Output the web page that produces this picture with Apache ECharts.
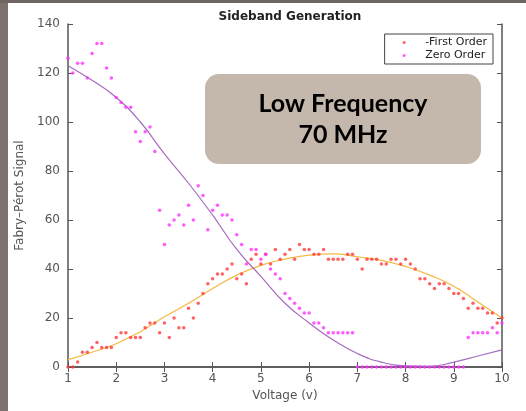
<!DOCTYPE html>
<html>
<head>
<meta charset="utf-8">
<script src="https://cdn.jsdelivr.net/npm/echarts@6/dist/echarts.min.js"></script>
<style>
  html, body { margin: 0; padding: 0; background: #fff; }
  #chart { width: 526px; height: 411px; }
</style>
</head>
<body>
<div id="chart"></div>
<script>
// measured points, voltage step 0.1 V
var voltage = [1.0,1.1,1.2,1.3,1.4,1.5,1.6,1.7,1.8,1.9,2.0,2.1,2.2,2.3,2.4,2.5,2.6,2.7,2.8,2.9,
  3.0,3.1,3.2,3.3,3.4,3.5,3.6,3.7,3.8,3.9,4.0,4.1,4.2,4.3,4.4,4.5,4.6,4.7,4.8,4.9,
  5.0,5.1,5.2,5.3,5.4,5.5,5.6,5.7,5.8,5.9,6.0,6.1,6.2,6.3,6.4,6.5,6.6,6.7,6.8,6.9,
  7.0,7.1,7.2,7.3,7.4,7.5,7.6,7.7,7.8,7.9,8.0,8.1,8.2,8.3,8.4,8.5,8.6,8.7,8.8,8.9,
  9.0,9.1,9.2,9.3,9.4,9.5,9.6,9.7,9.8,9.9,10.0];
var firstOrder = [0,0,2,6,6,8,10,8,8,8,12,14,14,12,12,12,16,18,18,14,
  18,12,20,16,16,24,20,26,30,34,36,38,38,40,42,36,38,34,44,46,
  42,46,42,48,44,46,48,44,50,48,48,46,46,48,44,44,44,44,46,46,
  44,40,44,44,44,42,42,44,44,42,44,42,40,36,36,34,32,34,34,32,
  30,30,28,24,26,24,24,22,22,18,20];
var zeroOrder = [126,120,124,124,118,128,132,132,122,118,110,108,106,106,96,92,96,98,88,64,
  50,58,60,62,58,66,60,74,70,56,64,66,62,62,60,54,50,42,48,48,
  44,46,40,38,36,30,28,26,24,22,22,18,18,16,14,14,14,14,14,14,
  0,0,0,0,0,0,0,0,0,0,0,0,0,0,0,0,0,0,0,0,
  0,0,0,12,14,14,14,14,16,14,18];
// smooth fit curves, read every 0.5 V
var fitVoltage = [1,1.5,2,2.5,3,3.5,4,4.5,5,5.5,6,6.5,7,7.5,8,8.5,9,9.5,10];
var firstFit = [3,6,9.5,14.4,20.5,26,32,37.5,41.5,44,45.7,46.2,45,43.5,41,37.5,33,26.5,20];
var zeroFit = [123,117,110,100,87,75,62,48,37,26,18,11,5.5,2,0.5,0.3,2,4.5,7];

function pairs(xs, ys) {
  return xs.map(function (x, i) { return [x, ys[i]]; });
}

var chart = echarts.init(document.getElementById('chart'));
var axisGray = '#555';
var option = {
  animation: false,
  textStyle: { fontFamily: 'DejaVu Sans' },
  title: {
    text: 'Sideband Generation',
    left: 285, top: 6, textAlign: 'center',
    textStyle: { fontSize: 12, fontWeight: 'bold', color: '#222', fontFamily: 'DejaVu Sans' }
  },
  legend: {
    orient: 'vertical',
    right: 33, top: 34,
    data: ['-First Order', 'Zero Order'],
    backgroundColor: '#fff',
    borderColor: '#444', borderWidth: 1,
    padding: [3, 6, 3, 18],
    itemGap: 2,
    itemWidth: 8, itemHeight: 3,
    textStyle: { fontSize: 11, color: '#222', padding: [0, 0, 0, 12] }
  },
  grid: { left: 68, right: 24, top: 24, bottom: 44 },
  xAxis: [{
    type: 'value', min: 1, max: 10, interval: 1,
    name: 'Voltage (v)', nameLocation: 'middle', nameGap: 22,
    nameTextStyle: { fontSize: 12, color: axisGray },
    axisLine: { lineStyle: { color: axisGray, width: 1.5 } },
    axisTick: { inside: true, length: 5, lineStyle: { color: axisGray } },
    axisLabel: { fontSize: 12, color: axisGray, margin: 6 },
    splitLine: { show: false }
  }, {
    type: 'value', min: 1, max: 10, interval: 1, position: 'top',
    axisLine: { lineStyle: { color: axisGray, width: 1.5 } },
    axisTick: { inside: true, length: 5, lineStyle: { color: axisGray } },
    axisLabel: { show: false },
    splitLine: { show: false }
  }],
  yAxis: [{
    type: 'value', min: 0, max: 140, interval: 20,
    name: 'Fabry–Pérot Signal', nameLocation: 'middle', nameGap: 36,
    nameTextStyle: { fontSize: 12, color: axisGray },
    axisLine: { show: true, lineStyle: { color: axisGray, width: 1.5 } },
    axisTick: { show: true, inside: true, length: 5, lineStyle: { color: axisGray } },
    axisLabel: { fontSize: 12, color: axisGray, margin: 8 },
    splitLine: { show: false }
  }, {
    type: 'value', min: 0, max: 140, interval: 20, position: 'right',
    axisLine: { show: true, lineStyle: { color: axisGray, width: 1.5 } },
    axisTick: { show: true, inside: true, length: 5, lineStyle: { color: axisGray } },
    axisLabel: { show: false },
    splitLine: { show: false }
  }],
  series: [{
    name: 'first fit', type: 'line', smooth: true, showSymbol: false,
    lineStyle: { color: '#f5b840', width: 1.2 },
    data: pairs(fitVoltage, firstFit), z: 2
  }, {
    name: 'zero fit', type: 'line', smooth: true, showSymbol: false,
    lineStyle: { color: '#a56cbf', width: 1.2 },
    data: pairs(fitVoltage, zeroFit), z: 2
  }, {
    name: '-First Order', type: 'scatter', symbol: 'circle', symbolSize: 3.5,
    itemStyle: { color: '#ff3b3b' },
    data: pairs(voltage, firstOrder), z: 3
  }, {
    name: 'Zero Order', type: 'scatter', symbol: 'circle', symbolSize: 3.5,
    itemStyle: { color: '#ff30ff' },
    data: pairs(voltage, zeroOrder), z: 3
  }],
  graphic: [
    { type: 'rect', left: 0, top: 0, shape: { width: 8, height: 411 }, style: { fill: '#7c7270' }, z: 100 },
    { type: 'rect', left: 0, top: 0, shape: { width: 526, height: 3 }, style: { fill: '#6f6562' }, z: 100 },
    { type: 'rect', shape: { x: 205, y: 74, width: 276, height: 90, r: 14 }, style: { fill: '#c4b8ad' }, z: 50 },
    {
      type: 'text', x: 343, y: 119, z: 51,
      style: {
        text: 'Low Frequency\n70 MHz', fill: '#000',
        font: 'bold 25px Lato', lineHeight: 31,
        align: 'center', verticalAlign: 'middle'
      }
    }
  ]
};
option && chart.setOption(option);
</script>
</body>
</html>
